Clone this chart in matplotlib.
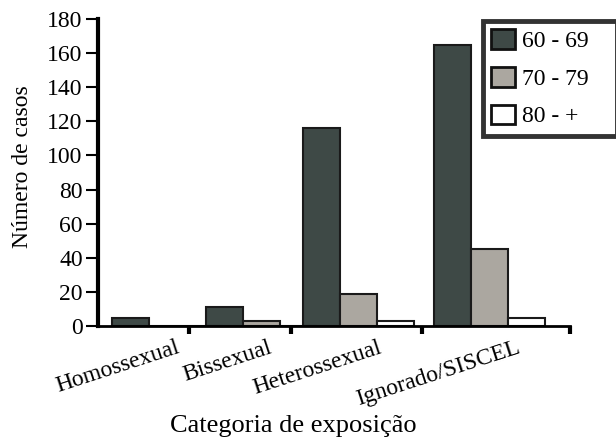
import numpy as np
import matplotlib.pyplot as plt
from matplotlib.patches import Patch

categories = ["Homossexual", "Bissexual", "Heterossexual", "Ignorado/SISCEL"]
age_groups = ["60 - 69", "70 - 79", "80 - +"]
casos_60_69 = [5, 11, 116, 165]
casos_70_79 = [0, 3, 19, 45]
casos_80_mais = [0, 0, 3, 5]

# layout (irregular spacing as in the original figure)
group_left = np.array([14, 108, 205, 336])
boundaries = [91, 193, 324, 472]
label_x = [78, 170, 280, 418]
bw = 37
colors = ["#3e4946", "#aba7a0", "#ffffff"]

plt.rcParams['font.family'] = ['Liberation Serif', 'DejaVu Serif']

fig = plt.figure(figsize=(6.16, 4.40), dpi=100)
ax = fig.add_axes([0.159, 0.259, 0.766, 0.698])

series = [casos_60_69, casos_70_79, casos_80_mais]
for i, vals in enumerate(series):
    ax.bar(group_left + i * bw, vals, width=bw, align='edge',
           color=colors[i], edgecolor='#1a1a1a', linewidth=1.5, zorder=2)

ax.set_xlim(0, 472)
ax.set_ylim(0, 180)
ax.set_yticks(np.arange(0, 181, 20))
ax.spines['top'].set_visible(False)
ax.spines['right'].set_visible(False)
ax.spines['left'].set_linewidth(3)
ax.spines['bottom'].set_linewidth(2)
ax.spines['left'].set_zorder(3)
ax.tick_params(axis='y', length=9, width=1.5, labelsize=17, pad=2)

ax.set_xticks(boundaries, minor=True)
ax.tick_params(axis='x', which='minor', length=6, width=3, direction='out')
ax.set_xticks(label_x)
ax.set_xticklabels(categories, rotation=18, ha='right', rotation_mode='anchor', fontsize=17)
ax.tick_params(axis='x', which='major', length=0, pad=8)

ax.set_ylabel("Número de casos", fontsize=17)
ax.yaxis.label.set_va('center')
ax.yaxis.set_label_coords(-0.16, 0.52)
ax.set_xlabel("Categoria de exposição", fontsize=19)
ax.xaxis.label.set_va('center')
ax.xaxis.set_label_coords(0.415, -0.326)

handles = [Patch(facecolor=c, edgecolor='#111111', linewidth=2) for c in colors]
leg = ax.legend(handles, age_groups, loc='upper left', bbox_to_anchor=(0.816, 0.5, 0.284, 0.493),
                mode='expand', borderaxespad=0, fontsize=17, frameon=True, fancybox=False,
                handlelength=1.0, handleheight=0.9, handletextpad=0.3,
                labelspacing=0.62, borderpad=0.35)
leg.get_frame().set_linewidth(3.5)
leg.get_frame().set_edgecolor('black')

fig.savefig("out.png", dpi=100)
